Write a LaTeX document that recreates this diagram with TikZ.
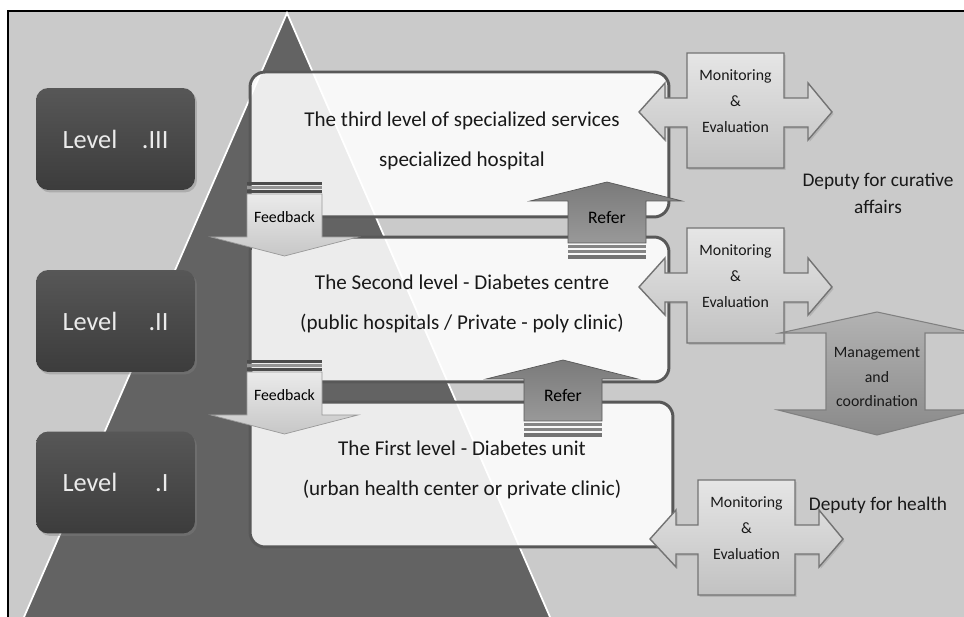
\documentclass[tikz,border=0pt]{standalone}
\usepackage{fontspec}
\setmainfont{Carlito}
\usetikzlibrary{shadows}

\definecolor{backgray}{HTML}{CACACA}
\definecolor{pyrgray}{HTML}{636363}
\definecolor{rimgray}{HTML}{585858}
\definecolor{levtop}{HTML}{575757}
\definecolor{levbot}{HTML}{3C3C3C}

\tikzset{
  levelbox/.style={rounded corners=7pt, top color=levtop, bottom color=levbot,
    text=white!92!black, minimum width=3.18cm, minimum height=2.04cm,
    text width=2.12cm, font=\fontsize{15}{18}\selectfont,
    drop shadow={opacity=0.4, shadow xshift=0.04cm, shadow yshift=-0.05cm}},
  tierbox/.style={draw=rimgray, line width=1.7pt, rounded corners=8.5pt,
    fill=white, fill opacity=0.88, minimum width=8.38cm, minimum height=2.9cm},
  tiertext/.style={align=center, font=\fontsize{12}{23}\selectfont, text=black!90},
  feedarrow/.style={draw=black!40, line width=0.4pt, top color=black!8, bottom color=black!22},
  referarrow/.style={draw=black!65, line width=0.4pt, top color=black!52,
    middle color=black!64, bottom color=black!40},
  mearrow/.style={draw=black!55, line width=0.8pt, top color=black!10,
    middle color=black!4, bottom color=black!24,
    drop shadow={opacity=0.3, shadow xshift=0.03cm, shadow yshift=-0.04cm}},
  mgmtarrow/.style={draw=black!50, line width=0.6pt, top color=black!30,
    middle color=black!20, bottom color=black!46},
  metext/.style={align=center, font=\fontsize{9}{14.7}\selectfont, text=black!90},
  deputytext/.style={align=center, font=\fontsize{11}{15.3}\selectfont, text=black!90}
}

\begin{document}
\begin{tikzpicture}[x=0.02cm, y=-0.02cm]
    \clip (0,0) rectangle (964,617);
    % Draw the frame and the background
    \fill[white] (0,0) rectangle (964,617);
    \draw[fill=backgray, line width=0.6pt] (8,11) rectangle (970,625);

    % Draw the pyramid with its light edges
    \fill[pyrgray] (287,13) -- (560,640) -- (14,640) -- cycle;
    \draw[white, line width=1pt] (14,640) -- (287,13) -- (560,640);

    % Draw the level boxes
    \node[levelbox] (lvl3) at (115.5,139) {Level\hfill.III};
    \node[levelbox] (lvl2) at (115.5,321) {Level\hfill.II};
    \node[levelbox] (lvl1) at (115.5,482.5) {Level\hfill.I};

    % Draw the tier boxes and their texts
    \node[tierbox] (tier3) at (459.5,144.5) {};
    \node[tierbox] (tier2) at (459.5,309.5) {};
    \node[tierbox, minimum width=8.46cm] (tier1) at (461.5,474.5) {};
    \node[tiertext] (tier3txt) at (462,141) {The third level of specialized services\\specialized hospital};
    \node[tiertext] (tier2txt) at (462,304) {The Second level - Diabetes centre\\(public hospitals / Private - poly clinic)};
    \node[tiertext] (tier1txt) at (462,470) {The First level - Diabetes unit\\(urban health center or private clinic)};

    % Draw the feedback arrows
    \foreach \dy/\nm in {0/feed3, 178/feed2} {
        \begin{scope}[shift={(0,\dy)}]
            \fill[black!70] (247,182) rectangle (322,185);
            \fill[black!42] (247,186) rectangle (322,189);
            \fill[black!70] (247,190) rectangle (322,193);
            \draw[feedarrow] (247,194) -- (322,194) -- (322,237) -- (358,237) -- (284.5,256) -- (211,237) -- (247,237) -- cycle;
            \node[font=\fontsize{9}{10}\selectfont] (\nm) at (284.5,217) {Feedback};
        \end{scope}
    }

    % Draw the refer arrows
    \foreach \dx/\dy/\nm in {0/0/refer3, -44/178/refer2} {
        \begin{scope}[shift={(\dx,\dy)}]
            \fill[black!48] (568,245) rectangle (646,248);
            \fill[black!48] (568,250) rectangle (646,253);
            \fill[black!55] (568,255) rectangle (646,259);
            \draw[referarrow] (568,243) -- (568,201) -- (530,201) -- (607,182) -- (682,201) -- (646,201) -- (646,243) -- cycle;
            \node[font=\fontsize{10}{12}\selectfont] (\nm) at (607,218) {Refer};
        \end{scope}
    }

    % Draw the monitoring & evaluation arrows
    \foreach \dx/\dy/\nm in {0/0/monitor3, 0/175/monitor2, 11/427/monitor1} {
        \begin{scope}[shift={(\dx,\dy)}]
            \draw[mearrow] (687,53) -- (784,53) -- (784,98) -- (808,98) -- (808,83) -- (832,112)
                -- (808,140) -- (808,127) -- (784,127) -- (784,168) -- (687,168) -- (687,127)
                -- (665,127) -- (665,140) -- (639,112) -- (665,83) -- (665,98) -- (687,98) -- cycle;
            \node[metext] (\nm) at (735.5,101) {Monitoring\\\&\\Evaluation};
        \end{scope}
    }

    % Draw the management arrow
    \draw[mgmtarrow] (877,312) -- (975,333) -- (925,333) -- (925,410) -- (976,410) -- (877,435)
        -- (778,410) -- (826,410) -- (826,333) -- (780,333) -- cycle;
    \node[metext, font=\fontsize{9}{14.2}\selectfont] (mgmt) at (877,377) {Management\\and\\coordination};

    % Label the deputies
    \node[deputytext] (curative) at (878,193.5) {Deputy for curative\\affairs};
    \node[deputytext] (health) at (878,505) {Deputy for health};
\end{tikzpicture}
\end{document}
